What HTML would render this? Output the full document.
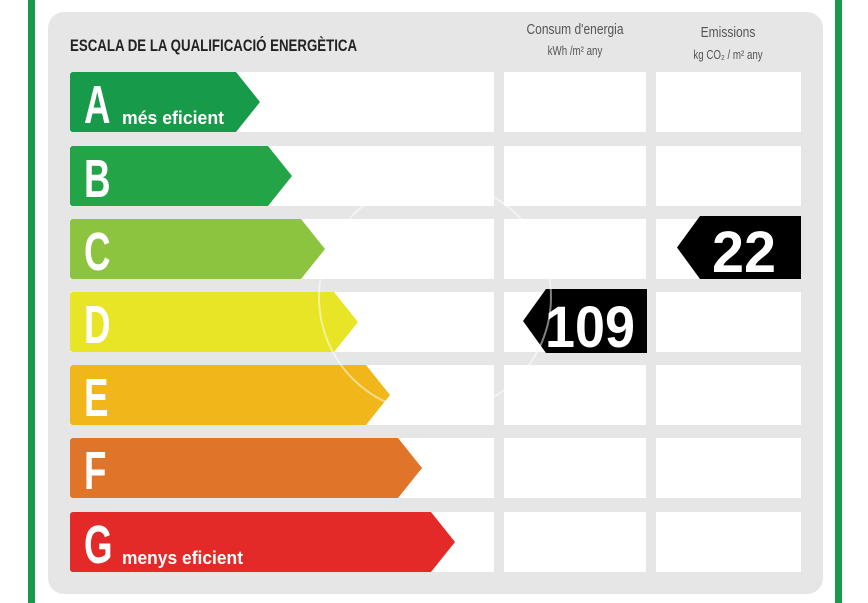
<!DOCTYPE html>
<html><head><meta charset="utf-8"><style>
body{margin:0;width:868px;height:603px;background:#fff;position:relative;overflow:hidden;font-family:"Liberation Sans",sans-serif}
.g{position:absolute;top:0;height:603px;width:7px;background:#179a4a}
.panel{position:absolute;left:48px;top:12px;width:775px;height:582px;background:#e6e6e6;border-radius:16px}
.w{position:absolute;background:#fff}
.t{position:absolute;white-space:nowrap;transform-origin:0 0}
svg{position:absolute;left:0;top:0}
</style></head><body>
<div class="g" style="left:28px"></div><div class="g" style="left:835px"></div>
<div class="panel"></div>
<div class="t" style="left:70px;top:36px;font-size:17px;font-weight:bold;color:#222;transform:scaleX(0.78)">ESCALA DE LA QUALIFICACIÓ ENERGÈTICA</div>
<div class="t" style="left:575px;top:21px;font-size:15px;color:#555;transform:scaleX(0.8) translateX(-50%)">Consum d'energia</div>
<div class="t" style="left:575px;top:43px;font-size:13px;color:#555;transform:scaleX(0.75) translateX(-50%)">kWh /m² any</div>
<div class="t" style="left:728px;top:24px;font-size:15px;color:#555;transform:scaleX(0.8) translateX(-50%)">Emissions</div>
<div class="t" style="left:728px;top:47px;font-size:13px;color:#555;transform:scaleX(0.75) translateX(-50%)">kg CO₂ / m² any</div>
<div id="rows"></div>
<svg width="868" height="603" id="s">
</svg>
<script>
var ys=[72,146,219,292,365,438,512],tips=[260,292,325,358,390,422,455],
cols=["#179a4a","#23a447","#8dc43f","#e8e526","#f1b71a","#e07428","#e32a29"],L="ABCDEFG";
var h="",sv="";
for(var i=0;i<7;i++){var y=ys[i];
h+='<div class="w" style="left:70px;top:'+y+'px;width:424px;height:60px"></div><div class="w" style="left:504px;top:'+y+'px;width:142px;height:60px"></div><div class="w" style="left:656px;top:'+y+'px;width:145px;height:60px"></div>';
var t=tips[i],b=t-24;
sv+='<path d="M73 '+y+' H'+b+' L'+t+' '+(y+30)+' L'+b+' '+(y+60)+' H73 Q70 '+(y+60)+' 70 '+(y+57)+' V'+(y+3)+' Q70 '+y+' 73 '+y+'Z" fill="'+cols[i]+'"/>';
sv+='<text x="84" y="'+(y+51)+'" font-family="Liberation Sans" font-weight="bold" font-size="54" fill="#fff" transform="translate(84 0) scale(0.68 1) translate(-84 0)">'+L[i]+'</text>';
}
sv+='<text x="122" y="124" font-family="Liberation Sans" font-weight="bold" font-size="18" fill="#fff" textLength="102" lengthAdjust="spacingAndGlyphs">més eficient</text>';
sv+='<text x="122" y="564" font-family="Liberation Sans" font-weight="bold" font-size="18" fill="#fff" textLength="121" lengthAdjust="spacingAndGlyphs">menys eficient</text>';
sv+='<path d="M700 216 H801 V279 H700 L677 247.5Z" fill="#000"/><text x="712" y="272" font-family="Liberation Sans" font-weight="bold" font-size="58" fill="#fff" textLength="64" lengthAdjust="spacingAndGlyphs">22</text>';
sv+='<path d="M546 289 H647 V353 H546 L523 321Z" fill="#000"/><text x="545" y="347" font-family="Liberation Sans" font-weight="bold" font-size="58" fill="#fff" textLength="90" lengthAdjust="spacingAndGlyphs">109</text>';
sv+='<circle cx="435" cy="297" r="116" fill="none" stroke="#fff" stroke-opacity="0.5" stroke-width="2"/>';
document.getElementById("rows").innerHTML=h;document.getElementById("s").innerHTML=sv;
</script>
</body></html>
